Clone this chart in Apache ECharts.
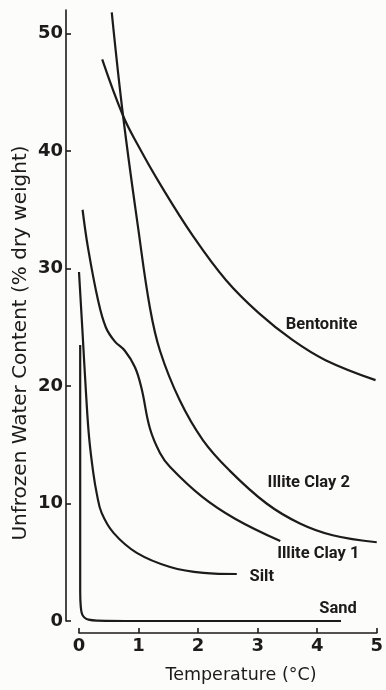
<!DOCTYPE html>
<html>
<head>
<meta charset="utf-8">
<script src="https://cdn.jsdelivr.net/npm/echarts@6/dist/echarts.min.js"></script>
<style>
  html, body { margin: 0; padding: 0; background: #fcfcfb; }
  #chart { width: 386px; height: 690px; }
</style>
</head>
<body>
<div id="chart"></div>
<script>
// Unfrozen water content (% dry weight) against temperature below freezing (°C)
const xTicks = [0, 1, 2, 3, 4, 5];
const yTicks = [0, 10, 20, 30, 40, 50];

const bentoniteT = [0.39, 0.74, 1.0, 1.36, 1.91, 2.47, 3.02, 3.59, 4.14, 4.98];
const bentoniteW = [47.8, 43.0, 40.4, 37.2, 32.8, 29.0, 26.2, 23.9, 22.2, 20.5];

const illite2T = [0.55, 0.74, 1.0, 1.19, 1.36, 1.69, 2.08, 2.53, 3.15, 3.71, 4.26, 5.0];
const illite2W = [51.8, 43.0, 33.2, 26.7, 23.0, 18.8, 15.4, 12.8, 10.0, 8.3, 7.3, 6.7];

const illite1T = [0.06, 0.15, 0.32, 0.45, 0.6, 0.77, 0.94, 1.05, 1.19, 1.36, 1.53, 2.06, 2.62, 3.38];
const illite1W = [35.0, 31.8, 27.3, 25.0, 23.8, 23.0, 21.6, 19.8, 16.4, 14.3, 13.1, 10.6, 8.7, 6.8];

const siltT = [0.0, 0.06, 0.12, 0.17, 0.24, 0.30, 0.38, 0.58, 0.97, 1.53, 2.09, 2.65];
const siltW = [29.7, 24.5, 19.2, 15.6, 12.6, 10.8, 9.2, 7.5, 5.8, 4.6, 4.1, 4.0];

const sandT = [0.02, 0.02, 0.03, 0.05, 0.09, 0.16, 0.3, 1.0, 2.0, 3.0, 4.4];
const sandW = [23.5, 2.5, 1.2, 0.6, 0.3, 0.12, 0.04, 0, 0, 0, 0];

const curveNames = ['Bentonite', 'Illite Clay 2', 'Illite Clay 1', 'Silt', 'Sand'];

const INK = '#1c1a1a';
const LABEL_FONT = 'Roboto, "DejaVu Sans Condensed", sans-serif';
const TICK_FONT = '"DejaVu Sans", sans-serif';

function pairs(ts, ws) { return ts.map((t, i) => [t, ws[i]]); }

// label offsets (px) from each curve's last point
const labelOffsets = {
  'Bentonite': [-54, -55],
  'Illite Clay 2': [-68, -59],
  'Illite Clay 1': [38, 13],
  'Silt': [25, 3],
  'Sand': [-3, -12]
};

function curve(name, ts, ws, smooth) {
  const data = pairs(ts, ws);
  return {
    type: 'line',
    name: name,
    data: data,
    smooth: smooth,
    showSymbol: false,
    symbol: 'none',
    clip: false,
    lineStyle: { color: INK, width: 2.2 },
    emphasis: { disabled: true },
    markPoint: {
      symbol: 'circle',
      symbolSize: 0,
      silent: true,
      data: [{
        coord: data[data.length - 1],
        label: {
          show: true,
          position: 'inside',
          offset: labelOffsets[name],
          formatter: name,
          color: INK,
          fontFamily: LABEL_FONT,
          fontSize: 16.5,
          fontWeight: 'bold'
        }
      }]
    }
  };
}

const chart = echarts.init(document.getElementById('chart'), null, { renderer: 'canvas' });

chart.setOption({
  animation: false,
  backgroundColor: '#fcfcfb',
  grid: { left: 79, right: 9, top: 10, bottom: 69 },
  xAxis: {
    type: 'value',
    min: 0, max: 5, interval: 1,
    offset: 12,
    splitLine: { show: false },
    axisLine: { show: true, onZero: false, lineStyle: { color: INK, width: 1.6 } },
    axisTick: { show: true, inside: true, length: 5, lineStyle: { color: INK, width: 1.6 }, customValues: xTicks },
    axisLabel: { color: INK, fontFamily: TICK_FONT, fontSize: 18, fontWeight: 'bold', margin: 4, customValues: xTicks }
  },
  yAxis: {
    type: 'value',
    min: 0, max: 52,
    offset: 13,
    splitLine: { show: false },
    axisLine: { show: true, onZero: false, lineStyle: { color: INK, width: 1.6 } },
    axisTick: { show: true, inside: true, length: 5, lineStyle: { color: INK, width: 1.6 }, customValues: yTicks },
    axisLabel: { color: INK, fontFamily: TICK_FONT, fontSize: 18, fontWeight: 'bold', margin: 3, customValues: yTicks }
  },
  graphic: [
    {
      type: 'text',
      x: 241, y: 675,
      style: {
        text: 'Temperature (°C)',
        fill: INK,
        font: '17.5px ' + TICK_FONT,
        align: 'center',
        verticalAlign: 'middle'
      }
    },
    {
      type: 'text',
      x: 21, y: 343,
      rotation: Math.PI / 2,
      style: {
        text: 'Unfrozen Water Content (% dry weight)',
        fill: INK,
        font: '20px ' + TICK_FONT,
        align: 'center',
        verticalAlign: 'middle'
      }
    }
  ],
  series: [
    curve(curveNames[0], bentoniteT, bentoniteW, 0.4),
    curve(curveNames[1], illite2T, illite2W, 0.4),
    curve(curveNames[2], illite1T, illite1W, 0.4),
    curve(curveNames[3], siltT, siltW, 0.4),
    curve(curveNames[4], sandT, sandW, 0.3)
  ]
});
</script>
</body>
</html>
